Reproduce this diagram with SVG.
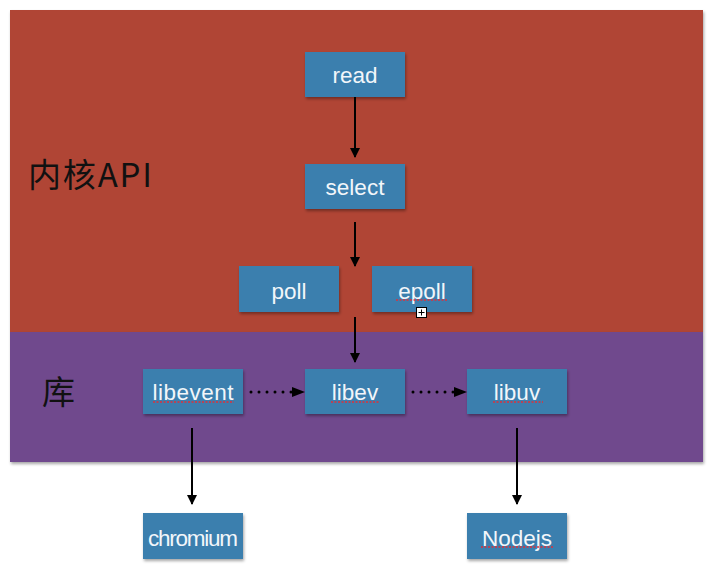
<svg xmlns="http://www.w3.org/2000/svg" width="712" height="573" viewBox="0 0 712 573">
<defs>
<filter id="sh" x="-10%" y="-10%" width="130%" height="140%"><feDropShadow dx="1" dy="2" stdDeviation="1.5" flood-color="#000" flood-opacity="0.35"/></filter>
<marker id="ah" markerWidth="10" markerHeight="10" refX="9" refY="5" orient="auto" markerUnits="userSpaceOnUse"><path d="M0,0 L10,5 L0,10 Z" fill="#000"/></marker>
</defs>
<style>
.box{fill:#3a7fae;filter:url(#sh)}
.t{font-family:"Liberation Sans","Noto Sans",sans-serif;font-size:22.5px;fill:#f2f6fa;text-anchor:middle}
.big{font-family:"Noto Sans CJK SC","Liberation Sans",sans-serif;font-size:33px;fill:#111}
.c{stroke:#000;stroke-width:2;fill:none}
.d{stroke:#000;stroke-width:3;fill:none;stroke-dasharray:0 8;stroke-linecap:round}
.sq{stroke:#e0303a;stroke-width:1.5;stroke-dasharray:2 1.5}
</style>
<rect width="712" height="573" fill="#fff"/>
<g id="kernel">
<rect x="10" y="10" width="693" height="322" fill="#b04535" filter="url(#sh)"/>
<text class="big" x="28" y="187" textLength="124">内核API</text>
</g>
<g id="lib">
<rect x="10" y="332" width="693" height="130" fill="#6f4a8d" filter="url(#sh)"/>
<text class="big" x="42" y="404">库</text>
</g>
<g id="connectors">
<line class="c" x1="355" y1="97" x2="355" y2="157" marker-end="url(#ah)"/>
<line class="c" x1="355" y1="222" x2="355" y2="266" marker-end="url(#ah)"/>
<line class="c" x1="355" y1="317" x2="355" y2="362" marker-end="url(#ah)"/>
<line class="d" x1="251" y1="392" x2="293" y2="392"/>
<path d="M292,387 L305,392 L292,397 Z" fill="#000"/>
<line class="d" x1="413" y1="392" x2="455" y2="392"/>
<path d="M454,387 L467,392 L454,397 Z" fill="#000"/>
<line class="c" x1="192" y1="428" x2="192" y2="504" marker-end="url(#ah)"/>
<line class="c" x1="517" y1="428" x2="517" y2="504" marker-end="url(#ah)"/>
</g>
<g id="read"><rect class="box" x="305" y="52" width="100" height="45"/><text class="t" x="355" y="83">read</text></g>
<g id="select"><rect class="box" x="305" y="164" width="100" height="45"/><text class="t" x="355" y="195">select</text></g>
<g id="poll"><rect class="box" x="239" y="266" width="100" height="46"/><text class="t" x="289" y="299">poll</text></g>
<g id="epoll"><rect class="box" x="372" y="266" width="100" height="46"/><text class="t" x="422" y="299">epoll</text><line class="sq" x1="396" y1="300" x2="447" y2="300"/></g>
<g id="libevent"><rect class="box" x="143" y="369" width="100" height="45"/><text class="t" x="193" y="400" textLength="81">libevent</text><line class="sq" x1="153" y1="402" x2="234" y2="402"/></g>
<g id="libev"><rect class="box" x="305" y="369" width="100" height="45"/><text class="t" x="355" y="400">libev</text><line class="sq" x1="331" y1="402" x2="380" y2="402"/></g>
<g id="libuv"><rect class="box" x="467" y="369" width="100" height="45"/><text class="t" x="517" y="400">libuv</text><line class="sq" x1="493" y1="402" x2="543" y2="402"/></g>
<g id="chromium"><rect class="box" x="143" y="513" width="100" height="46"/><text class="t" x="193" y="546" textLength="90">chromium</text></g>
<g id="nodejs"><rect class="box" x="467" y="513" width="100" height="46"/><text class="t" x="517" y="546">Nodejs</text><line class="sq" x1="481" y1="547" x2="553" y2="547"/></g>
<g id="plus-icon">
<rect x="416.5" y="307.5" width="10" height="10" fill="#fff" stroke="#000" stroke-width="1"/>
<path d="M418.5,312.5 H424.5 M421.5,309.5 V315.5" stroke="#000" stroke-width="1"/>
</g>
</svg>
